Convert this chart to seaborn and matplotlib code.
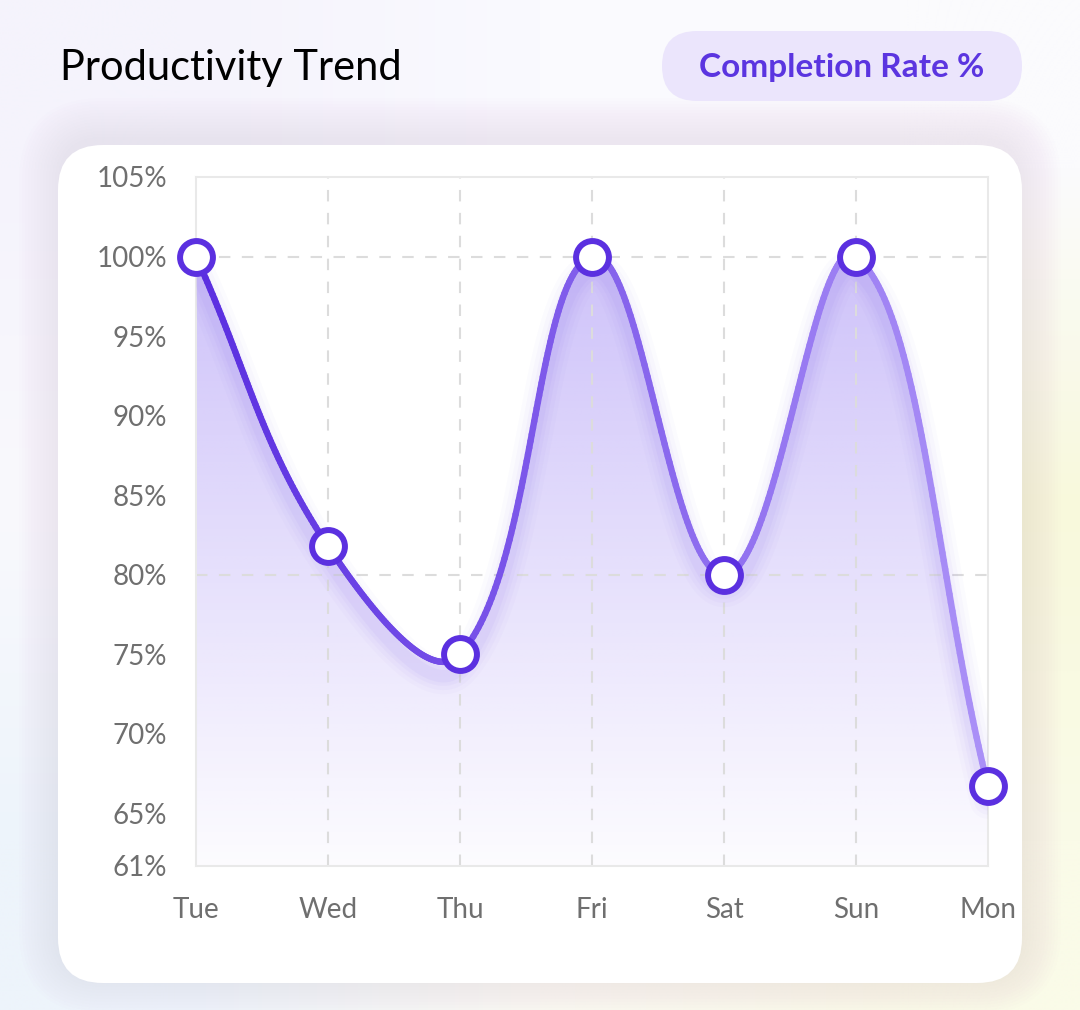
import numpy as np
import matplotlib
matplotlib.use("Agg")
import matplotlib.pyplot as plt
import seaborn as sns
from matplotlib.patches import FancyBboxPatch, Polygon
from matplotlib.collections import LineCollection
from matplotlib.colors import to_rgb

# data
days = ["Tue", "Wed", "Thu", "Fri", "Sat", "Sun", "Mon"]
rates = [100, 81.8, 75, 100, 80, 100, 66.7]
y_ticks = [65, 70, 75, 80, 85, 90, 95, 100, 105]
hgrid_levels = [80, 100]
title = "Productivity Trend"
badge_label = "Completion Rate %"

sns.set_theme(style="white")
plt.rcParams['font.family'] = ['Lato', 'DejaVu Sans']

W, H = 1080, 1010
fig = plt.figure(figsize=(W / 100, H / 100), dpi=100)

# background layer in pixel coords
bg = fig.add_axes([0, 0, 1, 1])
bg.set_xlim(0, W)
bg.set_ylim(H, 0)
bg.axis('off')
corners = np.array([[to_rgb('#f5f3fc'), to_rgb('#fafaff'), to_rgb('#fbfbfd')],
                    [to_rgb('#f9f9fd'), to_rgb('#fdfdf9'), to_rgb('#f8f9dc')],
                    [to_rgb('#edf4fb'), to_rgb('#fafaf2'), to_rgb('#fafbe8')]])
bg.imshow(corners, extent=[0, W, H, 0], interpolation='bilinear', aspect='auto', zorder=0)

# soft shadow + white card
for i in range(14):
    g = 3 * i
    bg.add_patch(FancyBboxPatch((58 - g, 145 - g - 8), 964 + 2 * g, 838 + 2 * g,
                                boxstyle=f"round,pad=0,rounding_size={45 + g}",
                                fc='#8070c8', ec='none', alpha=0.006, zorder=1))
bg.add_patch(FancyBboxPatch((58, 145), 964, 838, boxstyle="round,pad=0,rounding_size=45",
                            fc='white', ec='none', zorder=2))

# header
bg.text(60, 68, title, fontsize=30, color='black', ha='left', va='center', zorder=3)
bg.add_patch(FancyBboxPatch((662, 31), 360, 70, boxstyle="round,pad=0,rounding_size=35",
                            fc='#ebe5fc', ec='none', zorder=3))
bg.text(842, 67, badge_label, fontsize=24, color='#5b35e0', fontweight='bold',
        ha='center', va='center', zorder=4)

# main chart
ax = fig.add_axes([196 / W, 1 - 866 / H, (988 - 196) / W, (866 - 177) / H])
ax.patch.set_alpha(0)
xs = np.arange(len(rates), dtype=float)
ys = np.array(rates, dtype=float)
ymin, ymax = ys.min() - 5, 105
ax.set_xlim(0, len(days) - 1)
ax.set_ylim(ymin, ymax)

# smooth path (tension spline computed in pixel space)
sx, sy = 132.0, 15.85
P = np.column_stack([xs * sx, ys * sy])
t = 0.4
n = len(P)
cp_prev = np.zeros_like(P)
cp_next = np.zeros_like(P)
for i in range(n):
    prev, cur, nxt = P[max(i - 1, 0)], P[i], P[min(i + 1, n - 1)]
    d01 = np.hypot(*(cur - prev))
    d12 = np.hypot(*(nxt - cur))
    tot = d01 + d12
    cp_prev[i] = cur - t * d01 / tot * (nxt - prev)
    cp_next[i] = cur + t * d12 / tot * (nxt - prev)
s = np.linspace(0, 1, 80)[:, None]
parts = []
for i in range(n - 1):
    b = ((1 - s) ** 3 * P[i] + 3 * (1 - s) ** 2 * s * cp_next[i]
         + 3 * (1 - s) * s ** 2 * cp_prev[i + 1] + s ** 3 * P[i + 1])
    parts.append(b if i == 0 else b[1:])
curve = np.vstack(parts)
cx, cy = curve[:, 0] / sx, curve[:, 1] / sy

# gradient fill under the curve
grad = np.zeros((256, 2, 4))
grad[..., :3] = to_rgb('#7c5cf0')
grad[..., 3] = np.linspace(0.42, 0.02, 256)[:, None]
im = ax.imshow(grad, extent=[0, len(days) - 1, ymin, ymax], origin='upper',
               aspect='auto', interpolation='bilinear', zorder=1)
poly = Polygon(np.vstack([curve / [sx, sy], [[cx[-1], ymin], [cx[0], ymin]]]),
               closed=True, fc='none', ec='none')
ax.add_patch(poly)
im.set_clip_path(poly)

# grid
for x in xs[1:-1]:
    ax.axvline(x, color='#dcdcdc', lw=1.5, ls=(0, (5.5, 5.5)), zorder=2)
for yv in hgrid_levels:
    ax.axhline(yv, color='#dcdcdc', lw=1.5, ls=(0, (5.5, 5.5)), zorder=2)

# soft glow under the line
for w, a in [(26, 0.025), (20, 0.03), (14, 0.04), (9, 0.05)]:
    ax.plot(cx, cy - 0.9, color='#7c5cf0', lw=w, alpha=a, solid_capstyle='round', zorder=3)

# gradient-colored line
pts = curve / [sx, sy]
segs = np.stack([pts[:-1], pts[1:]], axis=1)
c0, c1 = np.array(to_rgb('#5a2ee0')), np.array(to_rgb('#ab91f7'))
frac = (pts[:-1, 0] / (len(days) - 1))[:, None]
lc = LineCollection(segs, colors=c0 * (1 - frac) + c1 * frac, linewidths=4.6,
                    capstyle='round', zorder=4, clip_on=False)
ax.add_collection(lc)

# points
sns.scatterplot(x=xs, y=ys, ax=ax, s=560, color='white', edgecolor='#5b30e0',
                linewidth=4.3, zorder=6, clip_on=False, legend=False)

# axes styling
ax.set_xticks(xs, days)
ax.set_yticks([ymin] + y_ticks, [f"{int(v)}%" for v in [ymin] + y_ticks])
ax.tick_params(axis='both', length=0, labelsize=20, labelcolor='#6f6f6f')
ax.tick_params(axis='y', pad=21)
ax.tick_params(axis='x', pad=22)
for sp in ax.spines.values():
    sp.set_visible(True)
    sp.set_color('#e9e9e9')
    sp.set_linewidth(1.5)
    sp.set_zorder(2)
ax.set_xlabel('')
ax.set_ylabel('')

fig.savefig('out.png', dpi=100)
